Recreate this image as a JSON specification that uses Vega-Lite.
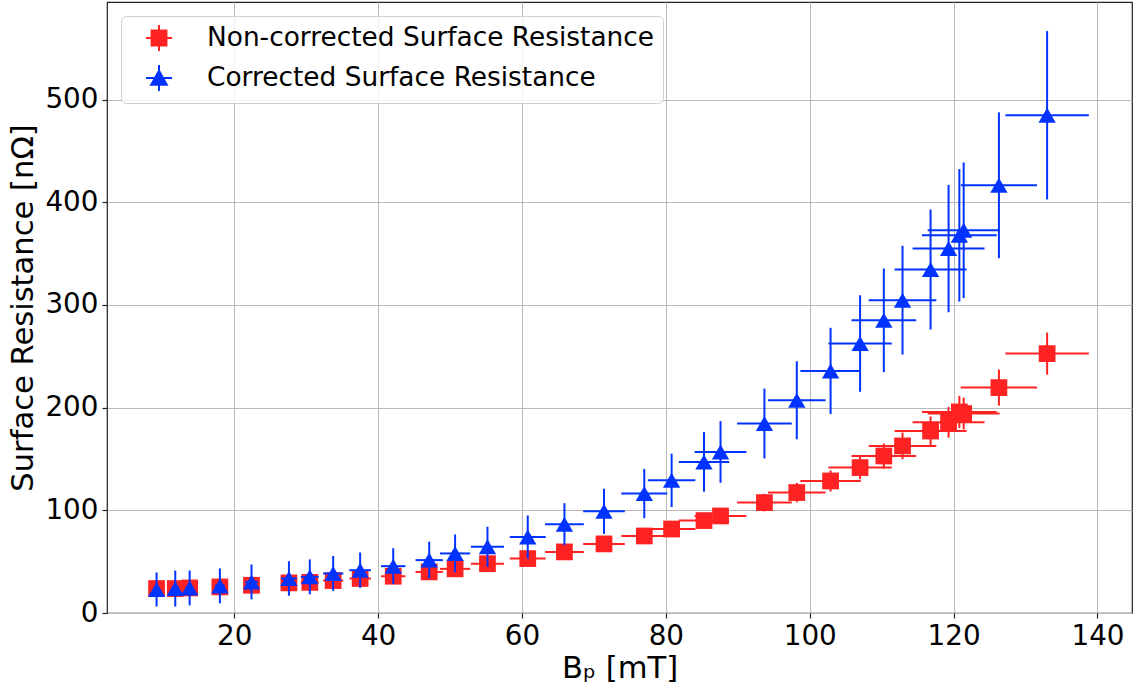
{
  "$schema": "https://vega.github.io/schema/vega-lite/v6.json",
  "width": 1025,
  "height": 611,
  "autosize": {"type": "none"},
  "padding": {"left": 107, "top": 2, "right": 4, "bottom": 75},
  "background": "white",
  "data": {
    "values": [
      {"B": 9.2, "Be": 0.4, "R": 23.8, "Re": 2.0, "s": "Non-corrected Surface Resistance"},
      {"B": 11.8, "Be": 0.5, "R": 23.8, "Re": 2.0, "s": "Non-corrected Surface Resistance"},
      {"B": 13.8, "Be": 0.6, "R": 24.4, "Re": 2.0, "s": "Non-corrected Surface Resistance"},
      {"B": 18.0, "Be": 0.7, "R": 25.4, "Re": 2.1, "s": "Non-corrected Surface Resistance"},
      {"B": 22.4, "Be": 0.9, "R": 27.0, "Re": 2.2, "s": "Non-corrected Surface Resistance"},
      {"B": 27.6, "Be": 1.1, "R": 29.3, "Re": 2.4, "s": "Non-corrected Surface Resistance"},
      {"B": 30.5, "Be": 1.25, "R": 29.8, "Re": 2.4, "s": "Non-corrected Surface Resistance"},
      {"B": 33.75, "Be": 1.4, "R": 31.6, "Re": 2.6, "s": "Non-corrected Surface Resistance"},
      {"B": 37.5, "Be": 1.5, "R": 33.6, "Re": 2.8, "s": "Non-corrected Surface Resistance"},
      {"B": 42.1, "Be": 1.7, "R": 35.8, "Re": 3.0, "s": "Non-corrected Surface Resistance"},
      {"B": 47.1, "Be": 1.9, "R": 40.0, "Re": 3.3, "s": "Non-corrected Surface Resistance"},
      {"B": 50.7, "Be": 2.1, "R": 43.0, "Re": 3.5, "s": "Non-corrected Surface Resistance"},
      {"B": 55.2, "Be": 2.3, "R": 48.0, "Re": 3.9, "s": "Non-corrected Surface Resistance"},
      {"B": 60.8, "Be": 2.5, "R": 53.0, "Re": 4.3, "s": "Non-corrected Surface Resistance"},
      {"B": 65.9, "Be": 2.7, "R": 59.5, "Re": 4.8, "s": "Non-corrected Surface Resistance"},
      {"B": 71.4, "Be": 2.9, "R": 67.3, "Re": 5.4, "s": "Non-corrected Surface Resistance"},
      {"B": 77.0, "Be": 3.2, "R": 75.0, "Re": 6.0, "s": "Non-corrected Surface Resistance"},
      {"B": 80.8, "Be": 3.3, "R": 81.8, "Re": 6.6, "s": "Non-corrected Surface Resistance"},
      {"B": 85.3, "Be": 3.5, "R": 90.0, "Re": 7.2, "s": "Non-corrected Surface Resistance"},
      {"B": 87.6, "Be": 3.6, "R": 94.5, "Re": 7.6, "s": "Non-corrected Surface Resistance"},
      {"B": 93.7, "Be": 3.8, "R": 107.5, "Re": 8.6, "s": "Non-corrected Surface Resistance"},
      {"B": 98.2, "Be": 4.0, "R": 117.3, "Re": 9.4, "s": "Non-corrected Surface Resistance"},
      {"B": 102.9, "Be": 4.2, "R": 128.6, "Re": 10.3, "s": "Non-corrected Surface Resistance"},
      {"B": 107.0, "Be": 4.4, "R": 141.6, "Re": 11.3, "s": "Non-corrected Surface Resistance"},
      {"B": 110.3, "Be": 4.5, "R": 152.9, "Re": 12.2, "s": "Non-corrected Surface Resistance"},
      {"B": 112.9, "Be": 4.7, "R": 162.7, "Re": 13.0, "s": "Non-corrected Surface Resistance"},
      {"B": 116.8, "Be": 5.0, "R": 177.2, "Re": 14.2, "s": "Non-corrected Surface Resistance"},
      {"B": 119.3, "Be": 5.0, "R": 185.7, "Re": 15.0, "s": "Non-corrected Surface Resistance"},
      {"B": 120.8, "Be": 5.2, "R": 195.8, "Re": 15.7, "s": "Non-corrected Surface Resistance"},
      {"B": 121.4, "Be": 5.0, "R": 194.2, "Re": 15.5, "s": "Non-corrected Surface Resistance"},
      {"B": 126.3, "Be": 5.3, "R": 219.5, "Re": 17.6, "s": "Non-corrected Surface Resistance"},
      {"B": 133.0, "Be": 5.8, "R": 252.6, "Re": 20.5, "s": "Non-corrected Surface Resistance"},
      {"B": 9.2, "Be": 0.4, "R": 22.9, "Re": 16.6, "s": "Corrected Surface Resistance"},
      {"B": 11.8, "Be": 0.5, "R": 23.8, "Re": 17.5, "s": "Corrected Surface Resistance"},
      {"B": 13.8, "Be": 0.6, "R": 24.4, "Re": 17.0, "s": "Corrected Surface Resistance"},
      {"B": 18.0, "Be": 0.7, "R": 26.4, "Re": 17.0, "s": "Corrected Surface Resistance"},
      {"B": 22.4, "Be": 0.9, "R": 30.3, "Re": 17.0, "s": "Corrected Surface Resistance"},
      {"B": 27.6, "Be": 1.1, "R": 33.6, "Re": 16.8, "s": "Corrected Surface Resistance"},
      {"B": 30.5, "Be": 1.25, "R": 35.2, "Re": 17.0, "s": "Corrected Surface Resistance"},
      {"B": 33.75, "Be": 1.4, "R": 38.5, "Re": 17.0, "s": "Corrected Surface Resistance"},
      {"B": 37.5, "Be": 1.5, "R": 41.7, "Re": 17.2, "s": "Corrected Surface Resistance"},
      {"B": 42.1, "Be": 1.7, "R": 45.6, "Re": 17.5, "s": "Corrected Surface Resistance"},
      {"B": 47.1, "Be": 1.9, "R": 51.5, "Re": 18.0, "s": "Corrected Surface Resistance"},
      {"B": 50.7, "Be": 2.1, "R": 58.0, "Re": 18.5, "s": "Corrected Surface Resistance"},
      {"B": 55.2, "Be": 2.3, "R": 64.5, "Re": 19.5, "s": "Corrected Surface Resistance"},
      {"B": 60.8, "Be": 2.5, "R": 74.0, "Re": 21.0, "s": "Corrected Surface Resistance"},
      {"B": 65.9, "Be": 2.7, "R": 86.4, "Re": 20.5, "s": "Corrected Surface Resistance"},
      {"B": 71.4, "Be": 2.9, "R": 99.0, "Re": 22.0, "s": "Corrected Surface Resistance"},
      {"B": 77.0, "Be": 3.2, "R": 116.3, "Re": 24.0, "s": "Corrected Surface Resistance"},
      {"B": 80.8, "Be": 3.3, "R": 129.2, "Re": 26.0, "s": "Corrected Surface Resistance"},
      {"B": 85.3, "Be": 3.5, "R": 147.1, "Re": 29.0, "s": "Corrected Surface Resistance"},
      {"B": 87.6, "Be": 3.6, "R": 156.8, "Re": 30.0, "s": "Corrected Surface Resistance"},
      {"B": 93.7, "Be": 3.8, "R": 184.5, "Re": 34.0, "s": "Corrected Surface Resistance"},
      {"B": 98.2, "Be": 4.0, "R": 207.2, "Re": 38.0, "s": "Corrected Surface Resistance"},
      {"B": 102.9, "Be": 4.2, "R": 235.7, "Re": 42.0, "s": "Corrected Surface Resistance"},
      {"B": 107.0, "Be": 4.4, "R": 262.4, "Re": 47.0, "s": "Corrected Surface Resistance"},
      {"B": 110.3, "Be": 4.5, "R": 285.0, "Re": 50.5, "s": "Corrected Surface Resistance"},
      {"B": 112.9, "Be": 4.7, "R": 304.6, "Re": 53.0, "s": "Corrected Surface Resistance"},
      {"B": 116.8, "Be": 5.0, "R": 334.5, "Re": 58.5, "s": "Corrected Surface Resistance"},
      {"B": 119.3, "Be": 5.0, "R": 354.9, "Re": 62.0, "s": "Corrected Surface Resistance"},
      {"B": 120.8, "Be": 5.2, "R": 367.8, "Re": 64.5, "s": "Corrected Surface Resistance"},
      {"B": 121.4, "Be": 5.0, "R": 372.7, "Re": 66.0, "s": "Corrected Surface Resistance"},
      {"B": 126.3, "Be": 5.3, "R": 416.5, "Re": 71.0, "s": "Corrected Surface Resistance"},
      {"B": 133.0, "Be": 5.8, "R": 484.7, "Re": 82.0, "s": "Corrected Surface Resistance"}
    ]
  },
  "encoding": {
    "x": {
      "field": "B",
      "type": "quantitative",
      "scale": {"domain": [2.31, 144.8], "nice": false, "zero": false},
      "axis": {"values": [20, 40, 60, 80, 100, 120, 140], "title": "Bₚ [mT]"}
    },
    "y": {
      "field": "R",
      "type": "quantitative",
      "scale": {"domain": [0, 595], "nice": false, "zero": false},
      "axis": {"values": [0, 100, 200, 300, 400, 500], "title": "Surface Resistance [nΩ]"}
    }
  },
  "layer": [
    {
      "transform": [{"filter": "datum.s === 'Non-corrected Surface Resistance'"}],
      "mark": {"type": "errorbar", "orient": "horizontal", "color": "#ff2222", "thickness": 2},
      "encoding": {"xError": {"field": "Be"}}
    },
    {
      "transform": [{"filter": "datum.s === 'Non-corrected Surface Resistance'"}],
      "mark": {"type": "errorbar", "orient": "vertical", "color": "#ff2222", "thickness": 2},
      "encoding": {"yError": {"field": "Re"}}
    },
    {
      "transform": [{"filter": "datum.s === 'Non-corrected Surface Resistance'"}],
      "mark": {"type": "point", "shape": "square", "filled": true, "color": "#ff2222", "size": 280, "opacity": 1},
      "encoding": {}
    },
    {
      "transform": [{"filter": "datum.s === 'Corrected Surface Resistance'"}],
      "mark": {"type": "errorbar", "orient": "horizontal", "color": "#0033ff", "thickness": 2},
      "encoding": {"xError": {"field": "Be"}}
    },
    {
      "transform": [{"filter": "datum.s === 'Corrected Surface Resistance'"}],
      "mark": {"type": "errorbar", "orient": "vertical", "color": "#0033ff", "thickness": 2},
      "encoding": {"yError": {"field": "Re"}}
    },
    {
      "transform": [{"filter": "datum.s === 'Corrected Surface Resistance'"}],
      "mark": {"type": "point", "shape": "triangle-up", "filled": true, "color": "#0033ff", "size": 300, "opacity": 1},
      "encoding": {}
    },
    {
      "mark": {"type": "point", "filled": true, "opacity": 0},
      "encoding": {
        "color": {
          "field": "s",
          "type": "nominal",
          "scale": {"domain": ["Non-corrected Surface Resistance", "Corrected Surface Resistance"], "range": ["#ff2222", "#0033ff"]},
          "legend": {
            "orient": "top-left",
            "offset": 14,
            "title": null,
            "padding": 8,
            "symbolOffset": 16,
            "labelOffset": 34,
            "rowPadding": 6,
            "labelFont": "DejaVu Sans",
            "labelFontSize": 26.4,
            "labelColor": "#000000",
            "labelLimit": 700,
            "fillColor": "rgba(255,255,255,0.8)",
            "strokeColor": "#d0d0d0",
            "cornerRadius": 5,
            "symbolSize": 676,
            "symbolStrokeWidth": 2,
            "encode": {
              "symbols": {
                "update": {
                  "opacity": {"value": 1},
                  "stroke": {"scale": "color", "field": "value"},
                  "strokeWidth": {"value": 2}
                }
              }
            }
          }
        },
        "shape": {
          "field": "s",
          "type": "nominal",
          "scale": {
            "domain": ["Non-corrected Surface Resistance", "Corrected Surface Resistance"],
            "range": ["M-1,0H1M0,-1V1M-0.57,-0.57H0.57V0.57H-0.57Z", "M-1,0H1M0,-1V1M0,-0.56L0.6,0.52L-0.6,0.52Z"]
          }
        }
      }
    }
  ],
  "config": {
    "font": "DejaVu Sans",
    "view": {"stroke": "#222222", "strokeWidth": 1.2},
    "axis": {
      "domain": false,
      "grid": true,
      "gridColor": "#b8b8b8",
      "gridWidth": 1,
      "tickColor": "#222222",
      "tickSize": 5,
      "tickWidth": 1.2,
      "labelFont": "DejaVu Sans",
      "labelFontSize": 27.8,
      "labelColor": "#000000",
      "labelPadding": 4,
      "titleFont": "DejaVu Sans",
      "titleFontSize": 30.6,
      "titleFontWeight": "normal",
      "titleColor": "#000000"
    },
    "axisX": {"titlePadding": 4},
    "axisY": {"titlePadding": 6}
  }
}
